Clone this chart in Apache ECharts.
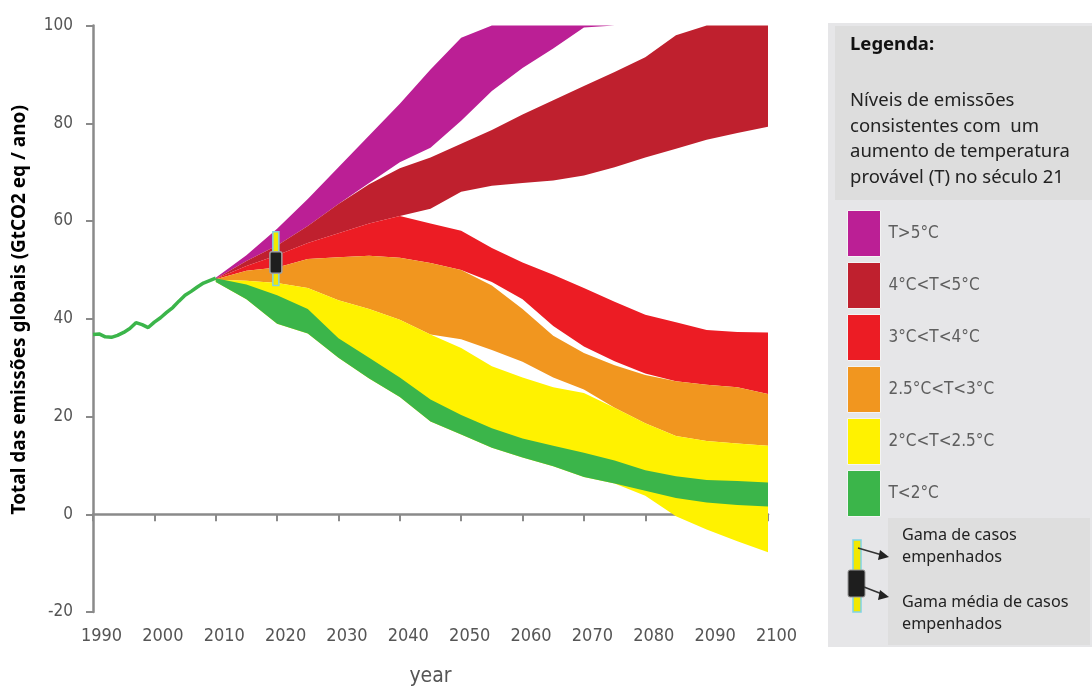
<!DOCTYPE html>
<html>
<head>
<meta charset="utf-8">
<script src="https://cdn.jsdelivr.net/npm/echarts@6/dist/echarts.min.js"></script>
<style>html,body{margin:0;padding:0;background:#fff}#c{width:1092px;height:687px}</style>
</head>
<body>
<div id="c"></div>
<script>
// ---- data ----
const xTicks = [1990, 2000, 2010, 2020, 2030, 2040, 2050, 2060, 2070, 2080, 2090, 2100];
const yTicks = [-20, 0, 20, 40, 60, 80, 100];

const histYears  = [1990,1991,1992,1993,1994,1995,1996,1997,1998,1999,2000,2001,2002,2003,2004,2005,2006,2007,2008,2009,2010];
const histValues = [36.8,36.9,36.3,36.2,36.6,37.2,38.0,39.2,38.8,38.2,39.3,40.2,41.3,42.3,43.6,44.8,45.6,46.5,47.3,47.8,48.3];

const years    = [2010,2015,2020,2025,2030,2035,2040,2045,2050,2055,2060,2065,2070,2075,2080,2085,2090,2095,2100];
const purpleHi = [48.4,53.0,58.4,64.5,71.0,77.5,84.0,91.0,97.5,100,100,100,100,100,100,100,100,100,100];
const purpleLo = [48.2,51.8,55.0,59.0,63.5,67.8,72.0,75.0,80.5,86.6,91.3,95.3,99.6,100,100,100,100,100,100];
const darkHi   = [48.2,51.8,55.0,59.0,63.5,67.5,70.8,73.0,75.8,78.6,81.8,84.7,87.6,90.5,93.5,98.0,100,100,100];
const darkLo   = [48.2,50.8,53.0,55.5,57.5,59.5,61.0,62.5,66.0,67.2,67.8,68.3,69.3,71.0,73.0,74.8,76.6,78.0,79.3];
const redHi    = [48.2,50.8,53.0,55.5,57.5,59.5,61.0,59.5,58.0,54.5,51.5,49.0,46.3,43.5,40.8,39.3,37.7,37.3,37.2];
const redLo    = [48.1,49.8,50.5,52.2,52.6,52.9,52.5,51.4,50.0,47.5,44.0,38.5,34.3,31.3,28.8,27.2,26.5,26.0,24.6];
const orangeHi = [48.1,49.8,50.5,52.2,52.6,52.9,52.5,51.4,50.0,46.8,42.0,36.5,33.0,30.5,28.5,27.2,26.5,26.0,24.6];
const orangeLo = [48.0,47.8,47.3,46.3,43.8,42.0,39.8,36.8,35.8,33.6,31.2,28.0,25.5,21.8,18.6,16.0,15.0,14.5,14.0];
const yellowHi = [48.0,47.8,47.3,46.3,43.8,42.0,39.8,36.8,34.0,30.3,28.0,26.0,24.8,21.8,18.6,16.0,15.0,14.5,14.0];
const yellowLo = [47.5,44.0,39.0,37.0,32.0,27.8,24.0,19.0,16.3,13.6,11.6,9.8,7.6,6.3,3.8,-0.4,-3.1,-5.5,-7.8];
const greenHi  = [48.3,47.0,44.8,42.0,36.0,32.0,28.0,23.5,20.3,17.6,15.5,14.0,12.6,11.0,9.0,7.8,7.0,6.8,6.5];
const greenLo  = [47.5,44.0,39.0,37.0,32.0,27.8,24.0,19.0,16.3,13.6,11.6,9.8,7.6,6.3,4.8,3.3,2.4,1.9,1.6];

const bandNames = ['T>5°C', '4°C<T<5°C', '3°C<T<4°C', '2.5°C<T<3°C', '2°C<T<2.5°C', 'T<2°C'];

const pledgeYear  = 2019.8;
const pledgeRange = [46.8, 57.8];
const pledgeMid   = [49.3, 53.7];

// ---- styles ----
const bandColors = ['#bb1f95', '#bf202e', '#ec1c24', '#f1961f', '#fff200', '#3bb54a'];
const narrow = "'Liberation Sans Narrow', 'DejaVu Sans Condensed', sans-serif";
const bands = [
  [purpleLo, purpleHi], [darkLo, darkHi], [redLo, redHi],
  [orangeLo, orangeHi], [yellowLo, yellowHi], [greenLo, greenHi]
];

const series = [];
bands.forEach(([lo, hi], k) => {
  series.push({
    type: 'custom', name: bandNames[k], silent: true, z: 2,
    itemStyle: { color: bandColors[k] },
    data: years.map((y, i) => [y, lo[i], hi[i]]),
    encode: { x: 0, y: [1, 2] },
    renderItem: (params, api) => {
      if (params.dataIndex !== 0) return;
      const pts = [];
      for (let i = 0; i < years.length; i++) pts.push(api.coord([years[i], hi[i]]));
      for (let i = years.length - 1; i >= 0; i--) pts.push(api.coord([years[i], lo[i]]));
      return { type: 'polygon', shape: { points: pts }, style: { fill: bandColors[k] } };
    }
  });
});
series.push({
  type: 'line', name: 'hist', data: histYears.map((y, i) => [y, histValues[i]]),
  symbol: 'none', lineStyle: { color: '#3bb54a', width: 3.5 }, silent: true, z: 5
});
series.push({
  type: 'custom', name: 'pledge', silent: true, z: 10,
  data: [[pledgeYear, pledgeRange[0], pledgeRange[1], pledgeMid[0], pledgeMid[1]]],
  encode: { x: 0, y: [1, 2] },
  renderItem: (params, api) => {
    const b = api.coord([api.value(0), api.value(1)]);
    const t = api.coord([api.value(0), api.value(2)]);
    const m1 = api.coord([api.value(0), api.value(3)]);
    const m2 = api.coord([api.value(0), api.value(4)]);
    return { type: 'group', children: [
      { type: 'rect', shape: { x: b[0] - 3, y: t[1], width: 6, height: b[1] - t[1] },
        style: { fill: '#f2e800', stroke: '#7fd3e3', lineWidth: 1.5 } },
      { type: 'rect', shape: { x: b[0] - 6, y: m2[1], width: 12, height: m1[1] - m2[1], r: 2 },
        style: { fill: '#1e1e1e', stroke: '#a0a0a0', lineWidth: 1.5 } }
    ]};
  }
});

const axisGray = '#8a8a8a';
const option = {
  backgroundColor: '#ffffff',
  animation: false,
  grid: { left: 93, right: 324, top: 25.5, bottom: 75, containLabel: false, outerBoundsMode: 'none' },
  xAxis: [
    { type: 'value', min: xTicks[0], max: xTicks[xTicks.length - 1], interval: 10,
      axisLine: { onZero: true, lineStyle: { color: axisGray, width: 2.5 } },
      axisTick: { show: true, inside: false, length: 7, lineStyle: { color: axisGray, width: 2 } },
      axisLabel: { show: false }, splitLine: { show: false } },
    { type: 'value', position: 'bottom', min: xTicks[0], max: xTicks[xTicks.length - 1], interval: 10,
      axisLine: { show: false, onZero: false }, axisTick: { show: false }, splitLine: { show: false },
      axisLabel: { show: true, margin: 15, color: '#555', fontSize: 18, fontFamily: narrow,
        padding: [0, 0, 0, 17],
        formatter: v => String(xTicks.find(t => t === v) ?? v) },
      name: 'year', nameLocation: 'middle', nameGap: 54,
      nameTextStyle: { color: '#555', fontSize: 21, fontFamily: narrow } }
  ],
  yAxis: {
    type: 'value', min: yTicks[0], max: yTicks[yTicks.length - 1], interval: 20,
    axisLine: { show: true, lineStyle: { color: axisGray, width: 2.5 } },
    axisTick: { show: true, length: 7, lineStyle: { color: axisGray, width: 2 } },
    splitLine: { show: false },
    axisLabel: { margin: 20, color: '#555', fontSize: 17, fontFamily: narrow,
      formatter: v => String(yTicks.find(t => t === v) ?? v) },
    name: 'Total das emissões globais (GtCO2 eq / ano)', nameLocation: 'middle', nameGap: 64,
    nameTextStyle: { color: '#000', fontSize: 19, fontWeight: 'bold', fontFamily: 'Noto Sans', padding: [0, 0, 0, 18] }
  },
  legend: {
    data: bandNames, orient: 'vertical', left: 847, top: 210, padding: 0,
    itemWidth: 33, itemHeight: 46, itemGap: 5, icon: 'rect', selectedMode: false,
    itemStyle: { borderColor: '#f4f4f4', borderWidth: 1 },
    textStyle: { color: '#5e5e5e', fontSize: 17, fontFamily: narrow, padding: [3, 0, 0, 3] }
  },
  graphic: { elements: [
    { type: 'rect', shape: { x: 828, y: 23, width: 264, height: 624 }, style: { fill: '#e6e6e8' }, z: -10 },
    { type: 'rect', shape: { x: 835, y: 26, width: 257, height: 174 }, style: { fill: '#dddddd' }, z: -9 },
    { type: 'rect', shape: { x: 888, y: 518, width: 202, height: 127 }, style: { fill: '#dedede' }, z: -9 },
    { type: 'text', x: 850, y: 45, style: { text: 'Legenda:', fill: '#111', font: "bold 18.5px 'Noto Sans'", verticalAlign: 'middle' } },
    { type: 'text', x: 850, y: 88, style: { text: 'Níveis de emissões\nconsistentes com  um\naumento de temperatura\nprovável (T) no século 21',
      fill: '#222', font: "18.5px 'Noto Sans'", lineHeight: 25.5, verticalAlign: 'top' } },
    { type: 'text', x: 902, y: 525, style: { text: 'Gama de casos\nempenhados', fill: '#222', font: "16.2px 'Noto Sans'", lineHeight: 21.5, verticalAlign: 'top' } },
    { type: 'text', x: 902, y: 592, style: { text: 'Gama média de casos\nempenhados', fill: '#222', font: "16.2px 'Noto Sans'", lineHeight: 21.5, verticalAlign: 'top' } },
    { type: 'rect', shape: { x: 853, y: 540, width: 8, height: 72 }, style: { fill: '#f2e800', stroke: '#7fd3e3', lineWidth: 1.5 } },
    { type: 'rect', shape: { x: 848, y: 570, width: 17, height: 27, r: 2 }, style: { fill: '#1e1e1e', stroke: '#999', lineWidth: 1 } },
    { type: 'line', shape: { x1: 858, y1: 548, x2: 882, y2: 555 }, style: { stroke: '#333', lineWidth: 1.5 } },
    { type: 'polygon', shape: { points: [[889, 557], [880, 550], [878, 560]] }, style: { fill: '#222' } },
    { type: 'line', shape: { x1: 864, y1: 587, x2: 882, y2: 594 }, style: { stroke: '#333', lineWidth: 1.5 } },
    { type: 'polygon', shape: { points: [[889, 597], [880, 590], [878, 600]] }, style: { fill: '#222' } }
  ]},
  series
};
const chart = echarts.init(document.getElementById('c'), null, { renderer: 'canvas' });
chart.setOption(option);
</script>
</body>
</html>
